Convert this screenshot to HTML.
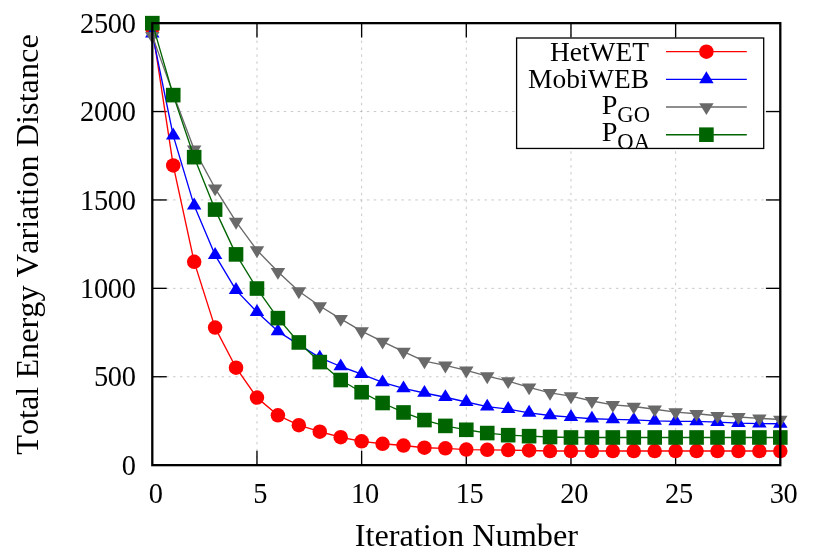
<!DOCTYPE html>
<html><head><meta charset="utf-8"><title>Total Energy Variation Distance</title>
<style>html,body{margin:0;padding:0;background:#fff}svg{display:block;will-change:transform;transform:translateZ(0)}text{font-family:"Liberation Serif",serif;fill:#000;font-kerning:none}</style>
</head><body>
<svg width="830" height="554" viewBox="0 0 830 554">
<rect x="0" y="0" width="830" height="554" fill="#ffffff"/>
<g stroke="#a8a8a8" stroke-width="0.62" stroke-dasharray="2.5 4.42" fill="none">
<line x1="256.97" y1="465.15" x2="256.97" y2="23.15"/>
<line x1="361.63" y1="465.15" x2="361.63" y2="23.15"/>
<line x1="466.3" y1="465.15" x2="466.3" y2="23.15"/>
<line x1="570.97" y1="465.15" x2="570.97" y2="23.15"/>
<line x1="675.63" y1="465.15" x2="675.63" y2="23.15"/>
<line x1="152.3" y1="376.75" x2="780.3" y2="376.75"/>
<line x1="152.3" y1="288.35" x2="780.3" y2="288.35"/>
<line x1="152.3" y1="199.95" x2="780.3" y2="199.95"/>
<line x1="152.3" y1="111.55" x2="780.3" y2="111.55"/>
</g>
<g stroke="#000" stroke-width="1.35" fill="none">
<line x1="256.97" y1="465.15" x2="256.97" y2="450.75"/>
<line x1="256.97" y1="23.15" x2="256.97" y2="37.55"/>
<line x1="361.63" y1="465.15" x2="361.63" y2="450.75"/>
<line x1="361.63" y1="23.15" x2="361.63" y2="37.55"/>
<line x1="466.3" y1="465.15" x2="466.3" y2="450.75"/>
<line x1="466.3" y1="23.15" x2="466.3" y2="37.55"/>
<line x1="570.97" y1="465.15" x2="570.97" y2="450.75"/>
<line x1="570.97" y1="23.15" x2="570.97" y2="37.55"/>
<line x1="675.63" y1="465.15" x2="675.63" y2="450.75"/>
<line x1="675.63" y1="23.15" x2="675.63" y2="37.55"/>
<line x1="152.3" y1="376.75" x2="166.7" y2="376.75"/>
<line x1="780.3" y1="376.75" x2="765.9" y2="376.75"/>
<line x1="152.3" y1="288.35" x2="166.7" y2="288.35"/>
<line x1="780.3" y1="288.35" x2="765.9" y2="288.35"/>
<line x1="152.3" y1="199.95" x2="166.7" y2="199.95"/>
<line x1="780.3" y1="199.95" x2="765.9" y2="199.95"/>
<line x1="152.3" y1="111.55" x2="166.7" y2="111.55"/>
<line x1="780.3" y1="111.55" x2="765.9" y2="111.55"/>
</g>
<g>
<polyline points="152.3,28.45 173.23,165.47 194.17,261.83 215.1,327.6 236.03,367.73 256.97,397.61 277.9,415.29 298.83,425.19 319.77,431.73 340.7,437.22 361.63,441.37 382.57,443.76 403.5,445.53 424.43,447.74 445.37,448.35 466.3,449.59 487.23,449.86 508.17,450.12 529.1,450.48 550.03,451.01 570.97,451.01 591.9,451.01 612.83,451.01 633.77,451.01 654.7,451.01 675.63,451.01 696.57,451.01 717.5,451.01 738.43,451.01 759.37,451.01 780.3,451.01" fill="none" stroke="#ff0000" stroke-width="1.35" stroke-linejoin="round"/>
<circle cx="152.3" cy="28.45" r="7.25" fill="#ff0000"/>
<circle cx="173.23" cy="165.47" r="7.25" fill="#ff0000"/>
<circle cx="194.17" cy="261.83" r="7.25" fill="#ff0000"/>
<circle cx="215.1" cy="327.6" r="7.25" fill="#ff0000"/>
<circle cx="236.03" cy="367.73" r="7.25" fill="#ff0000"/>
<circle cx="256.97" cy="397.61" r="7.25" fill="#ff0000"/>
<circle cx="277.9" cy="415.29" r="7.25" fill="#ff0000"/>
<circle cx="298.83" cy="425.19" r="7.25" fill="#ff0000"/>
<circle cx="319.77" cy="431.73" r="7.25" fill="#ff0000"/>
<circle cx="340.7" cy="437.22" r="7.25" fill="#ff0000"/>
<circle cx="361.63" cy="441.37" r="7.25" fill="#ff0000"/>
<circle cx="382.57" cy="443.76" r="7.25" fill="#ff0000"/>
<circle cx="403.5" cy="445.53" r="7.25" fill="#ff0000"/>
<circle cx="424.43" cy="447.74" r="7.25" fill="#ff0000"/>
<circle cx="445.37" cy="448.35" r="7.25" fill="#ff0000"/>
<circle cx="466.3" cy="449.59" r="7.25" fill="#ff0000"/>
<circle cx="487.23" cy="449.86" r="7.25" fill="#ff0000"/>
<circle cx="508.17" cy="450.12" r="7.25" fill="#ff0000"/>
<circle cx="529.1" cy="450.48" r="7.25" fill="#ff0000"/>
<circle cx="550.03" cy="451.01" r="7.25" fill="#ff0000"/>
<circle cx="570.97" cy="451.01" r="7.25" fill="#ff0000"/>
<circle cx="591.9" cy="451.01" r="7.25" fill="#ff0000"/>
<circle cx="612.83" cy="451.01" r="7.25" fill="#ff0000"/>
<circle cx="633.77" cy="451.01" r="7.25" fill="#ff0000"/>
<circle cx="654.7" cy="451.01" r="7.25" fill="#ff0000"/>
<circle cx="675.63" cy="451.01" r="7.25" fill="#ff0000"/>
<circle cx="696.57" cy="451.01" r="7.25" fill="#ff0000"/>
<circle cx="717.5" cy="451.01" r="7.25" fill="#ff0000"/>
<circle cx="738.43" cy="451.01" r="7.25" fill="#ff0000"/>
<circle cx="759.37" cy="451.01" r="7.25" fill="#ff0000"/>
<circle cx="780.3" cy="451.01" r="7.25" fill="#ff0000"/>
</g>
<g>
<polyline points="152.3,33.76 173.23,135.59 194.17,205.61 215.1,255.11 236.03,290.12 256.97,312.04 277.9,331.31 298.83,344.57 319.77,357.66 340.7,366.5 361.63,374.1 382.57,382.41 403.5,388.42 424.43,393.02 445.37,397.26 466.3,402.03 487.23,406.63 508.17,409.1 529.1,412.82 550.03,415.47 570.97,417.06 591.9,418.74 612.83,419.45 633.77,419.89 654.7,420.86 675.63,421.3 696.57,421.3 717.5,422.19 738.43,423.16 759.37,423.6 780.3,423.78" fill="none" stroke="#0000ff" stroke-width="1.35" stroke-linejoin="round"/>
<path d="M152.3 25.76L145.05 37.61L159.55 37.61Z" fill="#0000ff"/>
<path d="M173.23 127.59L165.98 139.44L180.48 139.44Z" fill="#0000ff"/>
<path d="M194.17 197.61L186.92 209.46L201.42 209.46Z" fill="#0000ff"/>
<path d="M215.1 247.11L207.85 258.96L222.35 258.96Z" fill="#0000ff"/>
<path d="M236.03 282.12L228.78 293.97L243.28 293.97Z" fill="#0000ff"/>
<path d="M256.97 304.04L249.72 315.89L264.22 315.89Z" fill="#0000ff"/>
<path d="M277.9 323.31L270.65 335.16L285.15 335.16Z" fill="#0000ff"/>
<path d="M298.83 336.57L291.58 348.42L306.08 348.42Z" fill="#0000ff"/>
<path d="M319.77 349.66L312.52 361.51L327.02 361.51Z" fill="#0000ff"/>
<path d="M340.7 358.5L333.45 370.35L347.95 370.35Z" fill="#0000ff"/>
<path d="M361.63 366.1L354.38 377.95L368.88 377.95Z" fill="#0000ff"/>
<path d="M382.57 374.41L375.32 386.26L389.82 386.26Z" fill="#0000ff"/>
<path d="M403.5 380.42L396.25 392.27L410.75 392.27Z" fill="#0000ff"/>
<path d="M424.43 385.02L417.18 396.87L431.68 396.87Z" fill="#0000ff"/>
<path d="M445.37 389.26L438.12 401.11L452.62 401.11Z" fill="#0000ff"/>
<path d="M466.3 394.03L459.05 405.88L473.55 405.88Z" fill="#0000ff"/>
<path d="M487.23 398.63L479.98 410.48L494.48 410.48Z" fill="#0000ff"/>
<path d="M508.17 401.1L500.92 412.95L515.42 412.95Z" fill="#0000ff"/>
<path d="M529.1 404.82L521.85 416.67L536.35 416.67Z" fill="#0000ff"/>
<path d="M550.03 407.47L542.78 419.32L557.28 419.32Z" fill="#0000ff"/>
<path d="M570.97 409.06L563.72 420.91L578.22 420.91Z" fill="#0000ff"/>
<path d="M591.9 410.74L584.65 422.59L599.15 422.59Z" fill="#0000ff"/>
<path d="M612.83 411.45L605.58 423.3L620.08 423.3Z" fill="#0000ff"/>
<path d="M633.77 411.89L626.52 423.74L641.02 423.74Z" fill="#0000ff"/>
<path d="M654.7 412.86L647.45 424.71L661.95 424.71Z" fill="#0000ff"/>
<path d="M675.63 413.3L668.38 425.15L682.88 425.15Z" fill="#0000ff"/>
<path d="M696.57 413.3L689.32 425.15L703.82 425.15Z" fill="#0000ff"/>
<path d="M717.5 414.19L710.25 426.04L724.75 426.04Z" fill="#0000ff"/>
<path d="M738.43 415.16L731.18 427.01L745.68 427.01Z" fill="#0000ff"/>
<path d="M759.37 415.6L752.12 427.45L766.62 427.45Z" fill="#0000ff"/>
<path d="M780.3 415.78L773.05 427.63L787.55 427.63Z" fill="#0000ff"/>
</g>
<g>
<polyline points="152.3,35.88 173.23,93.87 194.17,149.39 215.1,188.28 236.03,221.7 256.97,250.16 277.9,271.73 298.83,291.18 319.77,306.03 340.7,318.85 361.63,331.14 382.57,341.57 403.5,351.56 424.43,361.19 445.37,365.43 466.3,370.39 487.23,376.13 508.17,381.08 529.1,387.36 550.03,392.84 570.97,396.2 591.9,400.97 612.83,404.86 633.77,406.54 654.7,409.28 675.63,412.11 696.57,413.79 717.5,415.73 738.43,416.97 759.37,418.3 780.3,419.54" fill="none" stroke="#696969" stroke-width="1.35" stroke-linejoin="round"/>
<path d="M152.3 43.88L145.05 32.03L159.55 32.03Z" fill="#696969"/>
<path d="M173.23 101.87L165.98 90.02L180.48 90.02Z" fill="#696969"/>
<path d="M194.17 157.39L186.92 145.54L201.42 145.54Z" fill="#696969"/>
<path d="M215.1 196.28L207.85 184.43L222.35 184.43Z" fill="#696969"/>
<path d="M236.03 229.7L228.78 217.85L243.28 217.85Z" fill="#696969"/>
<path d="M256.97 258.16L249.72 246.31L264.22 246.31Z" fill="#696969"/>
<path d="M277.9 279.73L270.65 267.88L285.15 267.88Z" fill="#696969"/>
<path d="M298.83 299.18L291.58 287.33L306.08 287.33Z" fill="#696969"/>
<path d="M319.77 314.03L312.52 302.18L327.02 302.18Z" fill="#696969"/>
<path d="M340.7 326.85L333.45 315L347.95 315Z" fill="#696969"/>
<path d="M361.63 339.14L354.38 327.29L368.88 327.29Z" fill="#696969"/>
<path d="M382.57 349.57L375.32 337.72L389.82 337.72Z" fill="#696969"/>
<path d="M403.5 359.56L396.25 347.71L410.75 347.71Z" fill="#696969"/>
<path d="M424.43 369.19L417.18 357.34L431.68 357.34Z" fill="#696969"/>
<path d="M445.37 373.43L438.12 361.58L452.62 361.58Z" fill="#696969"/>
<path d="M466.3 378.39L459.05 366.54L473.55 366.54Z" fill="#696969"/>
<path d="M487.23 384.13L479.98 372.28L494.48 372.28Z" fill="#696969"/>
<path d="M508.17 389.08L500.92 377.23L515.42 377.23Z" fill="#696969"/>
<path d="M529.1 395.36L521.85 383.51L536.35 383.51Z" fill="#696969"/>
<path d="M550.03 400.84L542.78 388.99L557.28 388.99Z" fill="#696969"/>
<path d="M570.97 404.2L563.72 392.35L578.22 392.35Z" fill="#696969"/>
<path d="M591.9 408.97L584.65 397.12L599.15 397.12Z" fill="#696969"/>
<path d="M612.83 412.86L605.58 401.01L620.08 401.01Z" fill="#696969"/>
<path d="M633.77 414.54L626.52 402.69L641.02 402.69Z" fill="#696969"/>
<path d="M654.7 417.28L647.45 405.43L661.95 405.43Z" fill="#696969"/>
<path d="M675.63 420.11L668.38 408.26L682.88 408.26Z" fill="#696969"/>
<path d="M696.57 421.79L689.32 409.94L703.82 409.94Z" fill="#696969"/>
<path d="M717.5 423.73L710.25 411.88L724.75 411.88Z" fill="#696969"/>
<path d="M738.43 424.97L731.18 413.12L745.68 413.12Z" fill="#696969"/>
<path d="M759.37 426.3L752.12 414.45L766.62 414.45Z" fill="#696969"/>
<path d="M780.3 427.54L773.05 415.69L787.55 415.69Z" fill="#696969"/>
</g>
<g>
<polyline points="152.3,23.15 173.23,95.11 194.17,157.16 215.1,209.59 236.03,254.4 256.97,288.53 277.9,318.14 298.83,342.45 319.77,362.08 340.7,380.02 361.63,392.22 382.57,403 403.5,412.46 424.43,420.07 445.37,425.9 466.3,429.79 487.23,433.06 508.17,435.18 529.1,436.15 550.03,437.04 570.97,437.48 591.9,437.48 612.83,437.48 633.77,437.48 654.7,437.48 675.63,437.48 696.57,437.48 717.5,437.48 738.43,437.48 759.37,437.48 780.3,437.48" fill="none" stroke="#006400" stroke-width="1.35" stroke-linejoin="round"/>
<rect x="145" y="15.85" width="14.6" height="14.6" fill="#006400"/>
<rect x="165.93" y="87.81" width="14.6" height="14.6" fill="#006400"/>
<rect x="186.87" y="149.86" width="14.6" height="14.6" fill="#006400"/>
<rect x="207.8" y="202.29" width="14.6" height="14.6" fill="#006400"/>
<rect x="228.73" y="247.1" width="14.6" height="14.6" fill="#006400"/>
<rect x="249.67" y="281.23" width="14.6" height="14.6" fill="#006400"/>
<rect x="270.6" y="310.84" width="14.6" height="14.6" fill="#006400"/>
<rect x="291.53" y="335.15" width="14.6" height="14.6" fill="#006400"/>
<rect x="312.47" y="354.78" width="14.6" height="14.6" fill="#006400"/>
<rect x="333.4" y="372.72" width="14.6" height="14.6" fill="#006400"/>
<rect x="354.33" y="384.92" width="14.6" height="14.6" fill="#006400"/>
<rect x="375.27" y="395.7" width="14.6" height="14.6" fill="#006400"/>
<rect x="396.2" y="405.16" width="14.6" height="14.6" fill="#006400"/>
<rect x="417.13" y="412.77" width="14.6" height="14.6" fill="#006400"/>
<rect x="438.07" y="418.6" width="14.6" height="14.6" fill="#006400"/>
<rect x="459" y="422.49" width="14.6" height="14.6" fill="#006400"/>
<rect x="479.93" y="425.76" width="14.6" height="14.6" fill="#006400"/>
<rect x="500.87" y="427.88" width="14.6" height="14.6" fill="#006400"/>
<rect x="521.8" y="428.85" width="14.6" height="14.6" fill="#006400"/>
<rect x="542.73" y="429.74" width="14.6" height="14.6" fill="#006400"/>
<rect x="563.67" y="430.18" width="14.6" height="14.6" fill="#006400"/>
<rect x="584.6" y="430.18" width="14.6" height="14.6" fill="#006400"/>
<rect x="605.53" y="430.18" width="14.6" height="14.6" fill="#006400"/>
<rect x="626.47" y="430.18" width="14.6" height="14.6" fill="#006400"/>
<rect x="647.4" y="430.18" width="14.6" height="14.6" fill="#006400"/>
<rect x="668.33" y="430.18" width="14.6" height="14.6" fill="#006400"/>
<rect x="689.27" y="430.18" width="14.6" height="14.6" fill="#006400"/>
<rect x="710.2" y="430.18" width="14.6" height="14.6" fill="#006400"/>
<rect x="731.13" y="430.18" width="14.6" height="14.6" fill="#006400"/>
<rect x="752.07" y="430.18" width="14.6" height="14.6" fill="#006400"/>
<rect x="773" y="430.18" width="14.6" height="14.6" fill="#006400"/>
</g>
<rect x="516.6" y="38" width="247.1" height="110.45" fill="#ffffff" stroke="#000" stroke-width="1.3"/>
<line x1="666" y1="51.65" x2="746.8" y2="51.65" stroke="#ff0000" stroke-width="1.35"/>
<circle cx="706.4" cy="51.65" r="7.25" fill="#ff0000"/>
<line x1="666" y1="79.35" x2="746.8" y2="79.35" stroke="#0000ff" stroke-width="1.35"/>
<path d="M706.4 71.35L699.15 83.2L713.65 83.2Z" fill="#0000ff"/>
<line x1="666" y1="107" x2="746.8" y2="107" stroke="#696969" stroke-width="1.35"/>
<path d="M706.4 115L699.15 103.15L713.65 103.15Z" fill="#696969"/>
<line x1="666" y1="134.7" x2="746.8" y2="134.7" stroke="#006400" stroke-width="1.35"/>
<rect x="699.1" y="127.4" width="14.6" height="14.6" fill="#006400"/>
<g font-size="27.4" text-anchor="end">
<text x="648.9" y="60.8">HetWET</text>
<text x="649.2" y="88.3" letter-spacing="0.15">MobiWEB</text>
<text x="650" y="113.8" font-size="28.2">P<tspan font-size="22.6" dy="8.2">GO</tspan></text>
<text x="650" y="141.2" font-size="28.2">P<tspan font-size="22.6" dy="8.2">OA</tspan></text>
</g>
<rect x="152.3" y="23.15" width="628" height="442" fill="none" stroke="#000" stroke-width="2.3"/>
<g font-size="28.4" text-anchor="end" letter-spacing="-0.3">
<text x="135.6" y="474.75">0</text>
<text x="135.6" y="386.35">500</text>
<text x="135.6" y="297.95">1000</text>
<text x="135.6" y="209.55">1500</text>
<text x="135.6" y="121.15">2000</text>
<text x="135.6" y="32.75">2500</text>
</g>
<g font-size="28.4" text-anchor="middle" letter-spacing="-0.3">
<text x="155.6" y="502.6">0</text>
<text x="260.27" y="502.6">5</text>
<text x="364.93" y="502.6">10</text>
<text x="469.6" y="502.6">15</text>
<text x="574.27" y="502.6">20</text>
<text x="678.93" y="502.6">25</text>
<text x="783.6" y="502.6">30</text>
</g>
<text x="466.35" y="545.5" font-size="32.3" text-anchor="middle">Iteration Number</text>
<text transform="translate(37.7 244.55) rotate(-90)" font-size="32.3" text-anchor="middle">Total Energy Variation Distance</text>
</svg>
</body></html>
